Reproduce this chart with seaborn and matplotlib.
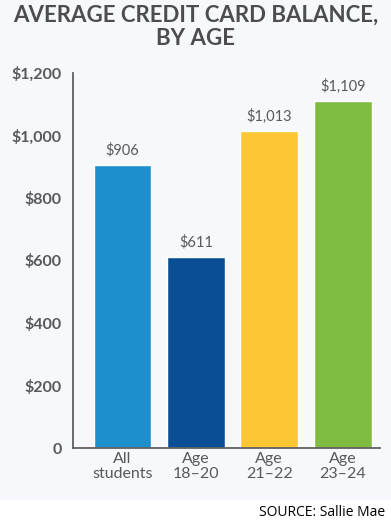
import matplotlib
matplotlib.use("Agg")
import matplotlib.pyplot as plt
import seaborn as sns
import pandas as pd
from matplotlib.patches import Rectangle

# chart data
groups = ["All\nstudents", "Age\n18\u201320", "Age\n21\u201322", "Age\n23\u201324"]
balances = [906, 611, 1013, 1109]
bar_colors = ["#1e8fcd", "#0a4f96", "#fdc634", "#7fbb41"]
y_ticks = [0, 200, 400, 600, 800, 1000, 1200]
y_tick_labels = ["0", "$200", "$400", "$600", "$800", "$1,000", "$1,200"]

sns.set_style("white")
plt.rcParams['font.family'] = ['Lato', 'DejaVu Sans']

grey = "#58595b"
bg = "#f6f8fc"

df = pd.DataFrame({"group": groups, "balance": balances})

fig = plt.figure(figsize=(3.91, 5.25), dpi=100)
fig.patch.set_facecolor("white")
fig.patches.append(Rectangle((0, 25 / 525), 1, 1, transform=fig.transFigure,
                             facecolor=bg, edgecolor="none", zorder=-10))

ax = fig.add_axes([73 / 391, 1 - 448 / 525, (380 - 73) / 391, (448 - 73) / 525])
ax.patch.set_alpha(0)

sns.barplot(data=df, x="group", y="balance", hue="group", palette=bar_colors,
            width=0.79, legend=False, saturation=1, ax=ax)

ax.set_xlim(-0.675, 3.51)
ax.set_ylim(0, 1200)
ax.set_yticks(y_ticks)
ax.set_yticklabels(y_tick_labels)
ax.set_xlabel("")
ax.set_ylabel("")

for sp in ["top", "right"]:
    ax.spines[sp].set_visible(False)
for sp in ["left", "bottom"]:
    ax.spines[sp].set_color("#606060")
    ax.spines[sp].set_linewidth(1.3)

ax.tick_params(axis="y", direction="in", length=5, width=1.3, color="#606060",
               pad=8, labelsize=11.5, labelcolor=grey)
for lab in ax.get_yticklabels():
    lab.set_fontweight("bold")
ax.tick_params(axis="x", length=0, pad=3, labelsize=11.5, labelcolor=grey)
for lab in ax.get_xticklabels():
    lab.set_linespacing(1.05)
ax.set_xticks([3.51], minor=True)
ax.tick_params(axis="x", which="minor", direction="in", length=5, width=1.3,
               color="#606060")

# value labels above bars
for i, v in enumerate(balances):
    ax.text(i, v + 25, "${:,}".format(v), ha="center", va="bottom",
            fontsize=10.5, color=grey)

fig.text(0.5, 1 - 27 / 525, "AVERAGE CREDIT CARD BALANCE,\nBY AGE",
         ha="center", va="center", fontsize=16, fontweight="bold",
         color="#4d4d4f", linespacing=1.1)
fig.text(1 - 6 / 391, 1 - 513 / 525, "SOURCE: Sallie Mae", ha="right",
         va="center", fontsize=10, color="black", family=['Open Sans', 'DejaVu Sans'])

fig.savefig("out.png", dpi=100)
